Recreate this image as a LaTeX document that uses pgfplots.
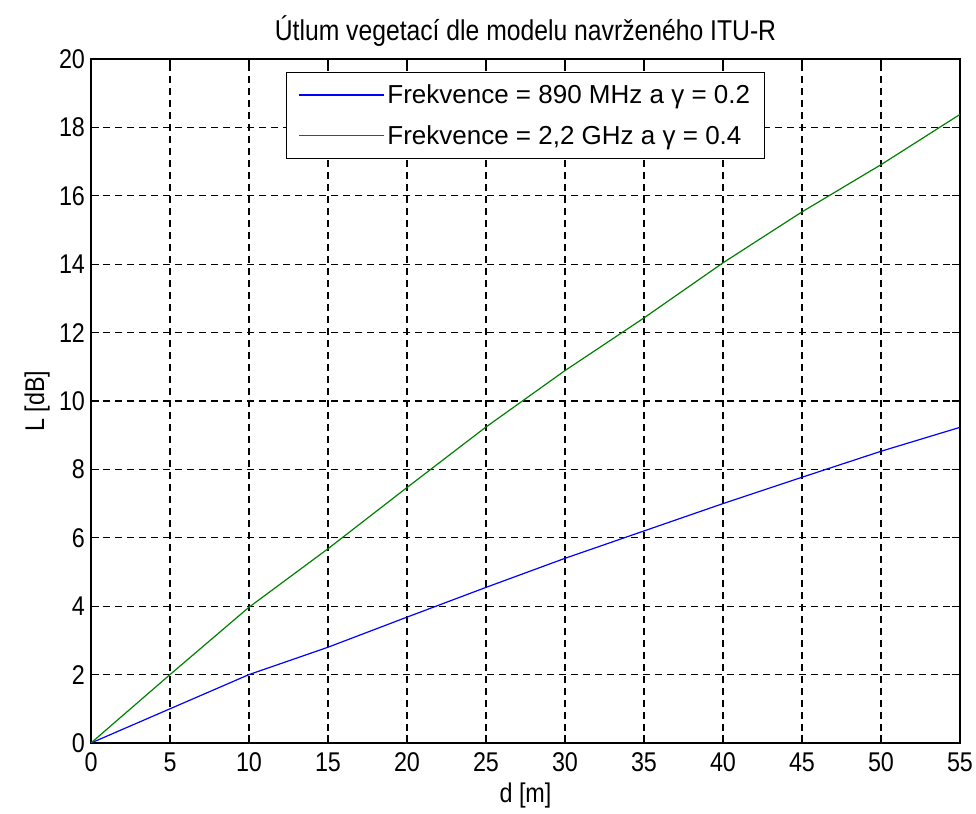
\documentclass[border=0pt]{standalone}
\usepackage{pgfplots}
\pgfplotsset{compat=1.18}
\usepackage{fontspec}
% narrow-set sans face: the text in this figure is taller than it is wide
\setmainfont{Liberation Sans}[FakeStretch=0.862]
\newfontfamily\legfont{Liberation Sans}

\definecolor{mblue}{rgb}{0,0,1}
\definecolor{mgreen}{rgb}{0,0.5,0}

\begin{document}
\begin{tikzpicture}[x=0.75pt,y=0.75pt]
\useasboundingbox (-91,-71) rectangle (885,743);
\begin{axis}[
  at={(0,0)}, anchor=south west,
  scale only axis,
  width=651.75pt, height=513pt,
  xmin=0, xmax=55, ymin=0, ymax=20,
  xtick={0,5,...,55}, ytick={0,2,...,20},
  tick align=inside,
  xtick pos=both, ytick pos=both,
  major tick length=6pt,
  tick style={black, line width=0.8pt},
  axis line style={black, line width=0.9pt},
  grid=major,
  major grid style={black, line width=0.9pt, dash pattern=on 5.5pt off 3.5pt},
  /pgf/number format/assume math mode=true,
  ticklabel style={font=\fontsize{20.3}{24}\selectfont},
  xticklabel style={yshift=-4pt},
  yticklabel style={xshift=-1pt},
  xlabel={d [m]}, ylabel={L [dB]},
  label style={font=\fontsize{20.3}{24}\selectfont},
  xlabel style={yshift=-1pt},
  ylabel style={yshift=0pt},
  title={Útlum vegetací dle modelu navrženého ITU-R},
  title style={font=\fontsize{21.5}{25}\selectfont, yshift=0pt},
  legend style={at={(0.5,0.981)}, anchor=north,
    draw=black, line width=0.9pt,
    font=\legfont\fontsize{19.5}{24}\selectfont,
    inner xsep=8.5pt, inner ysep=7pt,
    row sep=11pt,
    legend cell align=left},
  legend image code/.code={\draw[#1, line width=0.9pt] (0pt,0pt) -- (64pt,0pt);},
]
\addplot[mblue, line width=0.9pt] coordinates {
  (0,0) (5,1.0) (10,2.0) (15,2.80) (20,3.68) (25,4.55)
  (30,5.40) (35,6.20) (40,7.00) (45,7.77) (50,8.53) (55,9.23)
};
\addlegendentry{Frekvence = 890 MHz a γ = 0.2}
\addplot[mgreen, line width=0.9pt] coordinates {
  (0,0) (5,2.0) (10,3.97) (15,5.68) (20,7.47) (25,9.24)
  (30,10.89) (35,12.43) (40,14.04) (45,15.53) (50,16.91) (55,18.38)
};
\addlegendentry{Frekvence = 2,2 GHz a γ = 0.4}
\end{axis}
\end{tikzpicture}
\end{document}
